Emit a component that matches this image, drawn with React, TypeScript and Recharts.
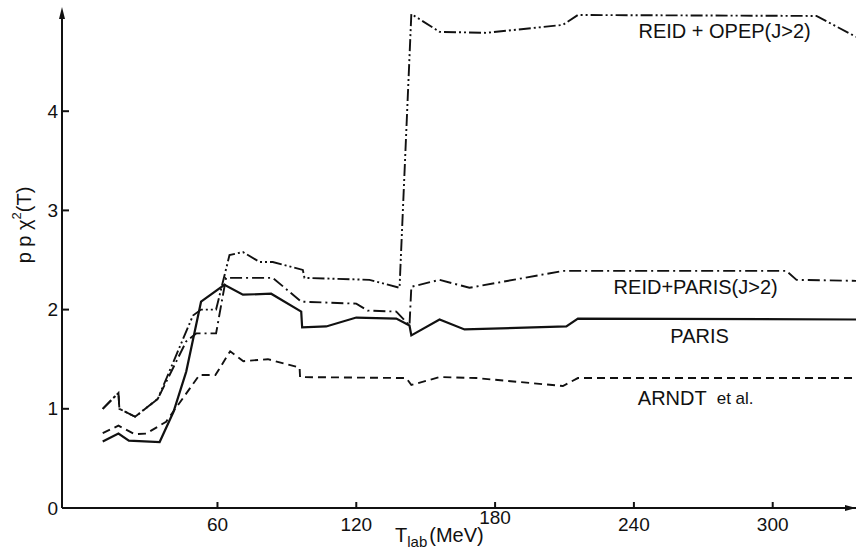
import { LineChart, Line, XAxis, YAxis, ReferenceDot } from 'recharts'

// ============================================
// Data
// ============================================

const parisT = [10.4, 17.2, 21.7, 35, 41, 46.5, 52.9, 63, 71, 83.2, 96.2, 96.6, 107, 120, 137.3, 143, 143.8, 156, 166.8, 210.8, 215.8, 336]
const parisChi = [0.67, 0.75, 0.68, 0.665, 0.97, 1.375, 2.08, 2.25, 2.15, 2.16, 1.98, 1.82, 1.83, 1.92, 1.91, 1.84, 1.74, 1.9, 1.8, 1.83, 1.91, 1.9]

const arndtT = [10.4, 17.2, 24.1, 29.2, 37.8, 52.2, 59.1, 65.5, 71.2, 81.8, 95.5, 95.7, 141.6, 143.8, 156, 171.9, 209.3, 215.8, 336]
const arndtChi = [0.755, 0.83, 0.745, 0.75, 0.87, 1.34, 1.34, 1.58, 1.48, 1.5, 1.415, 1.32, 1.31, 1.24, 1.32, 1.31, 1.23, 1.31, 1.31]

const reidParisT = [10.4, 17.2, 17.6, 24.4, 34.2, 46.5, 50.8, 59.4, 63.7, 83.9, 96.2, 120, 124.9, 137.3, 143, 143.8, 156, 168.9, 209.3, 305.9, 310.3, 336]
const reidParisChi = [1.0, 1.16, 1.0, 0.92, 1.1, 1.68, 1.76, 1.76, 2.32, 2.32, 2.08, 2.06, 1.99, 1.98, 1.84, 2.23, 2.3, 2.22, 2.39, 2.39, 2.3, 2.29]

const reidOpepT = [10.4, 17.2, 17.6, 24.4, 34.2, 49.4, 52.9, 59.4, 65.2, 71, 78.2, 83.9, 96.9, 97.6, 125.7, 138.7, 143.8, 156, 176.2, 209.3, 215.8, 318.9, 336]
const reidOpepChi = [1.0, 1.16, 1.0, 0.92, 1.1, 1.94, 2.0, 2.0, 2.55, 2.58, 2.48, 2.48, 2.4, 2.32, 2.3, 2.22, 4.98, 4.8, 4.79, 4.87, 4.97, 4.96, 4.75]

const xTicks = [60, 120, 180, 240, 300]
const yTicks = [0, 1, 2, 3, 4]

// ============================================
// Helpers
// ============================================

function toSeries(t: number[], chi: number[]) {
  return t.map((v, i) => ({ t: v, chi: chi[i] }))
}

const FONT = '"Liberation Sans", Arial, sans-serif'
const INK = '#111'

function XTick({ x, y, payload }: any) {
  // the 180 label sits a little higher in the original, clear of the axis title
  const lift = payload.value === 180 ? 7 : 0
  return (
    <g>
      <line x1={x} x2={x} y1={y} y2={y - 6} stroke={INK} strokeWidth={2} />
      <text x={x} y={y + 23 - lift} textAnchor="middle" fontSize={19} fontFamily={FONT} fill={INK}>
        {payload.value}
      </text>
    </g>
  )
}

function YTick({ x, y, payload }: any) {
  return (
    <g>
      {payload.value > 0 && (
        <line x1={x} x2={x + 7} y1={y} y2={y} stroke={INK} strokeWidth={2} />
      )}
      <text
        x={x - 4}
        y={y}
        textAnchor="end"
        dominantBaseline="central"
        fontSize={19}
        fontFamily={FONT}
        fill={INK}
      >
        {payload.value}
      </text>
    </g>
  )
}

function CurveLabel(text: string) {
  return (p: any) => (
    <text
      x={p.cx}
      y={p.cy}
      textAnchor="middle"
      dominantBaseline="central"
      fontSize={20}
      fontFamily={FONT}
      fill={INK}
    >
      {text}
    </text>
  )
}

// ============================================
// Main Component
// ============================================

export default function App() {
  const lineProps = {
    dataKey: 'chi',
    type: 'linear' as const,
    stroke: INK,
    dot: false,
    activeDot: false,
    isAnimationActive: false,
  }

  return (
    <div style={{ position: 'absolute', left: 0, top: 0, background: '#fff' }}>
      <LineChart width={856} height={552} margin={{ top: 12, right: 0, left: 2, bottom: 14 }}>
        <XAxis
          type="number"
          dataKey="t"
          domain={[-7.2, 336]}
          ticks={xTicks}
          allowDataOverflow
          height={30}
          tickSize={0}
          tickMargin={0}
          tickLine={false}
          axisLine={{ stroke: INK, strokeWidth: 2 }}
          tick={<XTick />}
        />
        <YAxis
          type="number"
          dataKey="chi"
          domain={[0, 5]}
          ticks={yTicks}
          allowDataOverflow
          width={60}
          tickSize={0}
          tickMargin={0}
          tickLine={false}
          axisLine={{ stroke: INK, strokeWidth: 2 }}
          tick={<YTick />}
        />

        <Line {...lineProps} data={toSeries(parisT, parisChi)} strokeWidth={2.2} />
        <Line {...lineProps} data={toSeries(arndtT, arndtChi)} strokeWidth={1.9} strokeDasharray="8 5" />
        <Line {...lineProps} data={toSeries(reidParisT, reidParisChi)} strokeWidth={1.9} strokeDasharray="12 4 2 4" />
        <Line {...lineProps} data={toSeries(reidOpepT, reidOpepChi)} strokeWidth={1.9} strokeDasharray="12 3 2 3 2 3" />

        {/* axis arrowheads */}
        <ReferenceDot
          x={-7.2}
          y={5}
          ifOverflow="visible"
          shape={(p: any) => (
            <path d={`M${p.cx},${p.cy - 5} L${p.cx - 3},${p.cy + 7} L${p.cx + 3},${p.cy + 7} Z`} fill={INK} />
          )}
        />
        <ReferenceDot
          x={336}
          y={0}
          ifOverflow="visible"
          shape={(p: any) => (
            <path d={`M${p.cx},${p.cy} L${p.cx - 11},${p.cy - 3} L${p.cx - 11},${p.cy + 3} Z`} fill={INK} />
          )}
        />

        {/* curve labels */}
        <ReferenceDot x={279.2} y={4.81} ifOverflow="visible" shape={CurveLabel('REID + OPEP(J>2)')} />
        <ReferenceDot x={266.7} y={2.228} ifOverflow="visible" shape={CurveLabel('REID+PARIS(J>2)')} />
        <ReferenceDot x={268.4} y={1.734} ifOverflow="visible" shape={CurveLabel('PARIS')} />
        <ReferenceDot
          x={266.7}
          y={1.109}
          ifOverflow="visible"
          shape={(p: any) => (
            <text
              x={p.cx}
              y={p.cy}
              textAnchor="middle"
              dominantBaseline="central"
              fontSize={20}
              fontFamily={FONT}
              fill={INK}
            >
              ARNDT
              <tspan fontSize={17} dx={10}>et al.</tspan>
            </text>
          )}
        />

        {/* axis titles */}
        <ReferenceDot
          x={-7.2}
          y={0}
          ifOverflow="visible"
          shape={(p: any) => (
            <g>
              <text
                transform={`translate(${p.cx - 38},225) rotate(-90)`}
                textAnchor="middle"
                dominantBaseline="central"
                fontSize={20}
                fontFamily={FONT}
                fill={INK}
              >
                p p χ
                <tspan fontSize={13} dy={-8}>2</tspan>
                <tspan dy={8}>(T)</tspan>
              </text>
              <text x={395} y={542} fontSize={20} fontFamily={FONT} fill={INK}>
                T
                <tspan fontSize={15} dy={5}>lab</tspan>
                <tspan dy={-5} dx={2}>(MeV)</tspan>
              </text>
            </g>
          )}
        />
      </LineChart>
    </div>
  )
}
